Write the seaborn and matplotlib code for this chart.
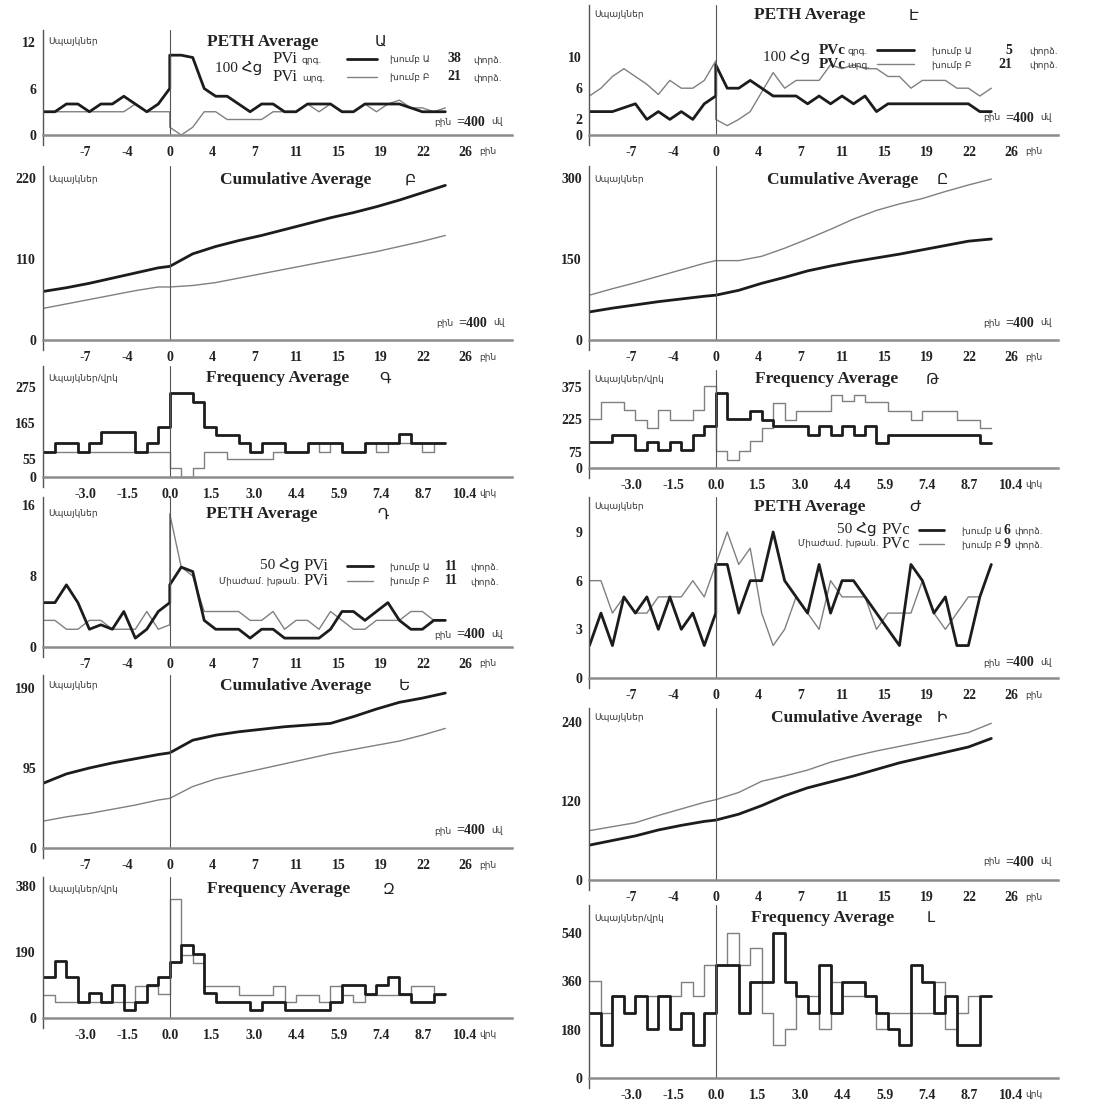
import numpy as np
import matplotlib
matplotlib.use("Agg")
import matplotlib.pyplot as plt
import matplotlib.ticker as mtick
from matplotlib.lines import Line2D
import seaborn as sns

# 400 ms bins, stimulus onset at bin 0
peth_bins = list(range(-11, 1)) + list(range(0, 25))   # pre part ends at 0, post part starts at 0
freq_bins = list(range(-11, 25))                        # step edges
cum_bins = [-11, -9, -7, -5, -3, -1, 0, 2, 4, 6, 8, 10, 12, 14, 16, 18, 20, 22, 24]

peth_xlabels = ['-7', '-4', '0', '4', '7', '11', '15', '19', '22', '26']
freq_xlabels = ['-3.0', '-1.5', '0.0', '1.5', '3.0', '4.4', '5.9', '7.4', '8.7', '10.4']

# Ա  PETH, PVi 100 Hz
a_dark = [3, 3, 4, 4, 3, 4, 4, 5, 4, 3, 4, 6,
          10.3, 10.3, 10, 6, 5, 5, 4, 3, 4, 4, 3, 3, 4, 4, 4, 3, 3, 4, 4, 4, 4, 3.5, 3, 3, 3]
a_light = [3, 3, 3, 3, 3, 3, 3, 3, 4, 3, 3, 3,
           1, 0, 1, 3, 3, 2, 2, 2, 2, 3, 3, 3, 4, 3, 4, 3, 3, 4, 3, 4, 4.5, 3.5, 3.5, 3, 3.5]
# Բ  cumulative
b_dark = [66, 71, 77, 84, 91, 98, 100, 117, 127, 135, 142, 150, 158, 166, 173, 181, 190, 200, 210]
b_light = [43, 49, 55, 61, 67, 72, 72, 74, 78, 84, 90, 96, 102, 108, 114, 120, 127, 134, 142]
# Գ  frequency
c_dark = [77, 105, 105, 77, 105, 138, 138, 138, 77, 105, 154,
          256, 256, 228, 154, 128, 128, 103, 77, 103, 103, 77, 77, 103, 103, 103, 77, 77, 103, 103, 103,
          131, 103, 103, 103]
c_light = [77, 77, 77, 77, 77, 77, 77, 77, 77, 77, 77,
           29, 0, 29, 77, 77, 56, 56, 56, 56, 77, 77, 77, 103, 77, 103, 77, 77, 103, 77, 103, 103, 103,
           77, 103]
# Դ  PETH, PVi 50 Hz
d_dark = [5, 5, 7, 5, 2, 2.5, 2, 4, 1, 2, 4, 5,
          7, 9, 8.5, 3, 2, 2, 2, 1, 2, 2, 1, 1, 1, 1, 2, 4, 4, 3, 4, 5, 3, 2, 2, 3, 3]
d_light = [3, 3, 2, 2, 3, 3, 2, 2, 2, 4, 2, 2.5,
           15, 9, 8, 4, 4, 4, 4, 3, 3, 4, 2, 3, 3, 2, 4, 3, 2, 2, 3, 3, 3, 4, 4, 3, 3]
# Ե  cumulative
e_dark = [77, 88, 95, 101, 106, 111, 113, 128, 134, 138, 141, 144, 146, 148, 156, 165, 173, 178, 184]
e_light = [32, 37, 41, 46, 51, 57, 59, 73, 82, 88, 94, 100, 106, 112, 117, 122, 127, 134, 142]
# Զ  frequency
z_dark = [119, 164, 119, 47, 71, 47, 95, 24, 47, 95, 119,
          161, 209, 185, 73, 47, 47, 47, 24, 47, 47, 24, 24, 24, 24, 47, 95, 95, 69, 95, 119, 69, 47,
          47, 69]
z_light = [66, 47, 47, 47, 47, 47, 47, 47, 92, 92, 69,
           342, 180, 157, 92, 92, 92, 66, 66, 66, 92, 47, 66, 66, 47, 92, 66, 47, 66, 66, 66, 66, 92,
           92, 66]
# Է  PETH, PVc 100 Hz
ee_dark = [3, 3, 3, 3.5, 4, 2, 3, 2, 3, 2, 4, 5,
           9, 6, 6, 7, 6, 5, 5, 5, 4, 5, 4, 5, 4, 5, 3, 4, 4, 4, 4, 4, 4, 4, 4, 3, 3]
ee_light = [5, 6, 7.5, 8.5, 7.5, 6.5, 5.2, 7, 6, 6, 7, 9.5,
            2, 1.2, 2, 3, 5.5, 8, 6, 7, 7, 7, 9, 8.5, 9, 8.5, 8.5, 7.5, 7.5, 6, 7, 7, 7, 6, 6, 5, 6]
# Ը  cumulative
y_light = [83, 95, 106, 118, 130, 142, 147, 147, 155, 170, 187, 205, 224, 240, 252, 262, 275, 287, 298]
y_dark = [52, 59, 65, 71, 76, 81, 83, 92, 105, 116, 128, 137, 145, 152, 159, 167, 175, 183, 187]
# Թ  frequency
t_dark = [119, 119, 154, 154, 85, 119, 85, 119, 85, 154, 193,
          347, 227, 227, 262, 224, 193, 193, 193, 154, 193, 154, 193, 154, 193, 116, 154, 154, 154, 154,
          154, 154, 154, 154, 116]
t_light = [227, 304, 304, 270, 224, 185, 270, 224, 224, 270, 378,
           77, 39, 77, 123, 185, 301, 224, 262, 262, 262, 340, 309, 340, 304, 304, 262, 262, 224, 262,
           262, 262, 224, 224, 185]
# Ժ  PETH, PVc 50 Hz
zh_dark = [2, 4, 2, 5, 4, 5, 3, 5, 3, 4, 2, 4,
           7, 7, 4, 6, 6, 9, 6, 5, 4, 7, 4, 6, 6, 5, 4, 3, 2, 7, 6, 4, 5, 2, 2, 5, 7]
zh_light = [6, 6, 4, 5, 4, 4, 5, 5, 5, 6, 5, 7,
            7, 9, 7, 8, 4, 2, 3, 5, 4, 3, 6, 5, 5, 5, 3, 4, 4, 4, 6, 4, 3, 4, 5, 5, np.nan]
# Ի  cumulative
i_light = [75, 81, 87, 98, 108, 118, 122, 133, 150, 158, 167, 179, 188, 196, 203, 210, 217, 224, 238]
i_dark = [53, 60, 67, 76, 83, 89, 91, 100, 113, 128, 140, 149, 158, 168, 178, 186, 194, 202, 215]
# Լ  frequency
l_dark = [242, 124, 304, 242, 304, 182, 304, 182, 242, 124, 242,
          422, 422, 242, 357, 357, 540, 357, 304, 242, 422, 242, 357, 357, 304, 242, 182, 124, 422, 357,
          242, 304, 124, 124, 304]
l_light = [360, 242, 304, 242, 304, 304, 304, 304, 357, 304, 422,
           422, 540, 422, 484, 242, 124, 182, 304, 304, 182, 357, 304, 304, 304, 182, 242, 242, 242, 242,
           357, 182, 242, 304, 304]

sns.set_style("white")
plt.rcParams['font.family'] = ['Liberation Serif', 'DejaVu Sans']

W, H = 1104, 1105
DARK, LIGHT = '#1c1c1c', '#808080'
BIN_PER_TICK = 3.68
XMIN, XMAX = -3 * BIN_PER_TICK, 8.1 * BIN_PER_TICK
COLS = [(43, 512), (589, 1058)]
ARM = dict(family='DejaVu Sans', fontsize=6.5, color='#333333')

fig = plt.figure(figsize=(W / 100, H / 100), dpi=100)


def px_text(x, y, s, **kw):
    kw.setdefault('va', 'center')
    fig.text(x / W, 1 - y / H, s, **kw)


def px_line(x0, x1, y, **kw):
    fig.add_artist(Line2D([x0 / W, x1 / W], [1 - y / H, 1 - y / H], transform=fig.transFigure, **kw))


def panel(col, top, zero, ref_val, ref_px, yticks, minor, kind, dark, light):
    left, right = COLS[col]
    bottom = zero + 10
    ax = fig.add_axes([left / W, 1 - bottom / H, (right - left) / W, (bottom - top) / H])
    if kind == 'peth':
        xs = peth_bins
        sns.lineplot(x=xs, y=light, ax=ax, color=LIGHT, linewidth=1.0, sort=False, estimator=None)
        sns.lineplot(x=xs, y=dark, ax=ax, color=DARK, linewidth=2.0, sort=False, estimator=None)
    elif kind == 'cum':
        sns.lineplot(x=cum_bins, y=light, ax=ax, color=LIGHT, linewidth=1.0, sort=False, estimator=None)
        sns.lineplot(x=cum_bins, y=dark, ax=ax, color=DARK, linewidth=2.0, sort=False, estimator=None)
    else:
        sns.lineplot(x=freq_bins, y=light + light[-1:], ax=ax, color=LIGHT, linewidth=1.0,
                     sort=False, estimator=None, drawstyle='steps-post')
        sns.lineplot(x=freq_bins, y=dark + dark[-1:], ax=ax, color=DARK, linewidth=2.0,
                     sort=False, estimator=None, drawstyle='steps-post')
    scale = (zero - ref_px) / ref_val
    ymin, ymax = -(bottom - zero) / scale, (zero - top) / scale
    ax.set_xlim(XMIN, XMAX)
    ax.set_ylim(ymin, ymax)
    ax.set_xlabel('')
    ax.set_ylabel('')
    ax.patch.set_alpha(0)
    for s in ['top', 'right']:
        ax.spines[s].set_visible(False)
    ax.spines['bottom'].set_position(('data', 0))
    ax.spines['bottom'].set_color('#8c8c8c')
    ax.spines['bottom'].set_linewidth(1.8)
    ax.spines['left'].set_color('#555555')
    ax.spines['left'].set_linewidth(1.0)
    ax.axvline(0, ymin=-ymin / (ymax - ymin), ymax=1, color='#555555', lw=0.8)
    ax.set_yticks(yticks)
    ax.set_yticklabels([str(v) for v in yticks], fontweight='bold', fontsize=10, color='#222222')
    ax.yaxis.set_minor_locator(mtick.FixedLocator(np.arange(0, ymax, minor)))
    ax.tick_params(axis='y', which='major', direction='inout', length=6, width=0.8,
                   color='#555555', pad=2)
    ax.tick_params(axis='y', which='minor', direction='in', length=3, width=0.6, color='#777777')
    ax.set_xticks([k * BIN_PER_TICK for k in range(-2, 8)])
    ax.set_xticklabels(peth_xlabels if kind != 'freq' else freq_xlabels,
                       fontweight='bold', fontsize=10, color='#222222')
    ax.tick_params(axis='x', direction='out', length=5, width=0.8, color='#777777', pad=3)
    # unit label at the end of the x axis
    unit_x = left + (7 + 3) * (right - left) / 11.1 + 14
    px_text(unit_x, zero + 17, 'վրկ' if kind == 'freq' else 'բին', ha='left', **ARM)
    ylab = 'Սպայկներ/վրկ' if kind == 'freq' else 'Սպայկներ'
    return ax, ylab


def header(col, y, title, tx, letter, lx, ylab):
    px_text(tx, y, title, ha='center', fontsize=12.5, fontweight='bold', color='#222222')
    px_text(lx, y, letter, ha='center', family='DejaVu Sans', fontsize=11, color='#222222')
    px_text(COLS[col][0] + 5, y, ylab, ha='left', **ARM)


def bin_note(xr, y):
    px_text(xr, y, 'մվ', ha='right', **ARM)
    px_text(xr - 18, y, '=400', ha='right', fontsize=10, fontweight='bold', color='#222222')
    px_text(xr - 52, y, 'բին', ha='right', **ARM)


specs = [
    # col, top, zero, ref value, ref px, yticks, minor, kind, dark, light, title, tx, letter, lx, ty, note
    (0, 30, 135, 12, 42, [0, 6, 12], 1, 'peth', a_dark, a_light, 'PETH Average', 263, 'Ա', 380, 42, (503, 122)),
    (0, 166, 340, 220, 178, [0, 110, 220], 22, 'cum', b_dark, b_light, 'Cumulative Average', 296, 'Բ', 410, 180, (505, 323)),
    (0, 366, 477, 275, 387, [0, 55, 165, 275], 27.5, 'freq', c_dark, c_light, 'Frequency Average', 278, 'Գ', 385, 378, None),
    (0, 497, 647, 16, 505, [0, 8, 16], 2, 'peth', d_dark, d_light, 'PETH Average', 262, 'Դ', 383, 514, (503, 635)),
    (0, 675, 848, 190, 688, [0, 95, 190], 19, 'cum', e_dark, e_light, 'Cumulative Average', 296, 'Ե', 404, 686, (503, 831)),
    (0, 877, 1018, 380, 886, [0, 190, 380], 38, 'freq', z_dark, z_light, 'Frequency Average', 279, 'Զ', 389, 889, None),
    (1, 5, 135, 10, 57, [0, 2, 6, 10], 1, 'peth', ee_dark, ee_light, 'PETH Average', 810, 'Է', 914, 15, (1052, 118)),
    (1, 166, 340, 300, 178, [0, 150, 300], 30, 'cum', y_dark, y_light, 'Cumulative Average', 843, 'Ը', 942, 180, (1052, 323)),
    (1, 370, 468, 375, 387, [0, 75, 225, 375], 37.5, 'freq', t_dark, t_light, 'Frequency Average', 827, 'Թ', 932, 379, None),
    (1, 497, 678, 9, 532, [0, 3, 6, 9], 1, 'peth', zh_dark, zh_light, 'PETH Average', 810, 'Ժ', 915, 507, (1052, 663)),
    (1, 708, 880, 240, 722, [0, 120, 240], 24, 'cum', i_dark, i_light, 'Cumulative Average', 847, 'Ի', 942, 718, (1052, 862)),
    (1, 905, 1078, 540, 933, [0, 180, 360, 540], 36, 'freq', l_dark, l_light, 'Frequency Average', 823, 'Լ', 931, 918, None),
]

for (col, top, zero, rv, rp, yt, mn, kind, dark, light, title, tx, letter, lx, ty, note) in specs:
    ax, ylab = panel(col, top, zero, rv, rp, yt, mn, kind, dark, light)
    header(col, ty, title, tx, letter, lx, ylab)
    if note:
        bin_note(*note)

BLK = dict(fontsize=10, fontweight='bold', color='#222222')
REG = dict(fontsize=12, color='#222222')

# legend Ա
px_text(239, 69, '100 Հց', ha='center', fontsize=11, color='#222222')
for y, tag, grp, n, c, lw in [(59, 'գրգ.', 'խումբ Ա', '38', DARK, 2.0), (77, 'արգ.', 'խումբ Բ', '21', LIGHT, 1.0)]:
    px_text(273, y, 'PVi', ha='left', **REG)
    px_text(302, y + 1, tag, ha='left', **ARM)
    px_line(347, 377, y, color=c, lw=lw)
    px_text(390, y + 1, grp, ha='left', **ARM)
    px_text(447, y, n, ha='left', **BLK)
    px_text(473, y + 1, 'փորձ.', ha='left', **ARM)

# legend Է
px_text(787, 58, '100 Հց', ha='center', fontsize=11, color='#222222')
for y, tag, grp, n, c, lw in [(50, 'գրգ.', 'խումբ Ա', '5', DARK, 2.0), (64, 'արգ.', 'խումբ Բ', '21', LIGHT, 1.0)]:
    px_text(819, y, 'PVc', ha='left', fontsize=11, fontweight='bold', color='#222222')
    px_text(847, y + 1, tag, ha='left', **ARM)
    px_line(877, 914, y, color=c, lw=lw)
    px_text(932, y + 1, grp, ha='left', **ARM)
    px_text(1012, y, n, ha='right', **BLK)
    px_text(1029, y + 1, 'փորձ.', ha='left', **ARM)

# legend Դ
px_text(300, 566, '50 Հց', ha='right', fontsize=11, color='#222222')
px_text(300, 581, 'Միաժամ. խթան.', ha='right', **ARM)
for y, grp, c, lw in [(566, 'խումբ Ա', DARK, 2.0), (581, 'խումբ Բ', LIGHT, 1.0)]:
    px_text(304, y, 'PVi', ha='left', **REG)
    px_line(347, 373, y, color=c, lw=lw)
    px_text(390, y + 1, grp, ha='left', **ARM)
    px_text(445, y, '11', ha='left', **BLK)
    px_text(470, y + 1, 'փորձ.', ha='left', **ARM)

# legend Ժ
px_text(877, 530, '50 Հց', ha='right', fontsize=11, color='#222222')
px_text(879, 544, 'Միաժամ. խթան.', ha='right', **ARM)
for y, grp, n, c, lw in [(530, 'խումբ Ա', '6', DARK, 2.0), (544, 'խումբ Բ', '9', LIGHT, 1.0)]:
    px_text(882, y, 'PVc', ha='left', **REG)
    px_line(919, 944, y, color=c, lw=lw)
    px_text(962, y + 1, grp, ha='left', **ARM)
    px_text(1004, y, n, ha='left', **BLK)
    px_text(1014, y + 1, 'փորձ.', ha='left', **ARM)

fig.savefig('out.png', dpi=100)
